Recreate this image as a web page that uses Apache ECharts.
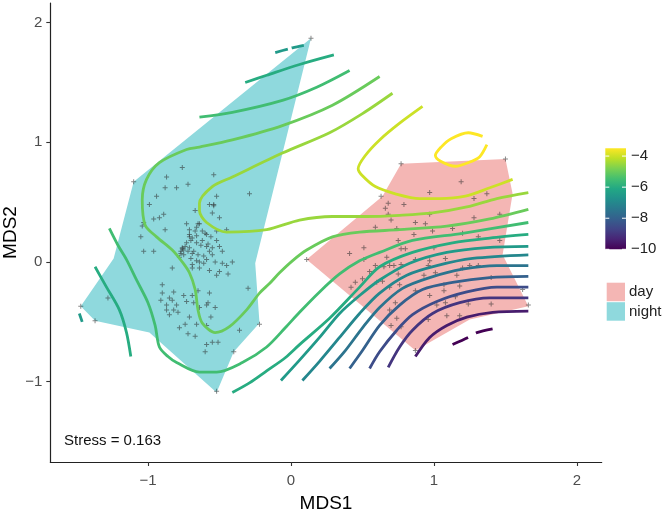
<!DOCTYPE html>
<html>
<head>
<meta charset="utf-8">
<script src="https://cdn.jsdelivr.net/npm/echarts@6/dist/echarts.min.js"></script>
<style>
  html, body { margin: 0; padding: 0; background: #fff; }
  #chart { width: 666px; height: 519px; }
</style>
</head>
<body>
<div id="chart"></div>
<script>
const xTicks = [-1, 0, 1, 2];
const yTicks = [-1, 0, 1, 2];
const barTicks = [-4, -6, -8, -10];
const levelRange = [-10, -3.5];
const groups = ["day", "night"];

const nightHull = [[0.14,1.87],[-0.25,-0.01],[-0.22,-0.51],[-0.40,-0.75],[-0.52,-1.09],[-0.99,-0.59],
  [-1.37,-0.49],[-1.47,-0.37],[-1.24,0.03],[-1.10,0.67]];
const dayHull = [[0.77,0.82],[1.50,0.86],[1.55,0.57],[1.48,0.06],[1.66,-0.37],[1.25,-0.48],
  [0.87,-0.74],[0.11,0.02],[0.64,0.55]];

const nightPoints = [
  [0.14,1.87],[-1.10,0.67],[-1.47,-0.37],[-1.37,-0.49],[-0.22,-0.52],[-0.40,-0.75],[-0.52,-1.08],
  [-0.87,0.71],[-0.54,0.73],[-0.72,0.65],[-0.80,0.62],[-0.88,0.62],[-0.29,0.57],[-0.52,0.55],[-0.94,0.55],
  [-0.57,0.48],[-0.54,0.48],[-0.99,0.48],[-0.67,0.43],[-0.55,0.41],[-0.89,0.40],[-0.92,0.37],[-0.96,0.36],
  [-0.50,0.37],[-1.03,0.33],[-0.73,0.32],[-0.65,0.32],[-0.66,0.29],[-1.04,0.30],[-0.88,0.27],[-0.71,0.27],
  [-0.67,0.26],[-0.52,0.26],[-0.45,0.27],[-0.71,0.23],[-0.59,0.23],[-0.66,0.22],[-0.56,0.21],[-1.05,0.21],
  [-0.70,0.18],[-0.62,0.18],[-0.52,0.18],[-0.73,0.16],[-0.66,0.16],[-0.63,0.14],[-0.59,0.13],[-0.71,0.12],
  [-0.55,0.12],[-0.50,0.13],[-0.76,0.11],[-0.77,0.09],[-0.72,0.09],[-0.68,0.09],[-0.57,0.09],[-0.48,0.09],
  [-1.03,0.09],[-0.96,0.09],[-0.75,0.06],[-0.65,0.06],[-0.61,0.05],[-0.55,0.06],[-0.78,0.04],[-0.70,0.03],
  [-0.59,0.02],[-0.66,0.01],[-0.64,0.00],[-0.53,0.00],[-0.41,0.00],[-0.69,-0.02],[-0.61,-0.01],[-0.48,-0.01],
  [-0.45,-0.03],[-0.64,-0.05],[-0.69,-0.05],[-0.57,-0.07],[-0.83,-0.05],[-0.50,-0.08],[-0.52,-0.11],[-0.44,-0.10],
  [-0.30,-0.22],[-0.90,-0.19],[-0.65,-0.24],[-0.82,-0.25],[-0.57,-0.26],[-0.90,-0.26],[-0.75,-0.28],[-0.69,-0.28],
  [-0.85,-0.30],[-0.91,-0.32],[-0.83,-0.32],[-0.73,-0.33],[-0.58,-0.34],[-0.68,-0.34],[-0.87,-0.36],[-0.80,-0.36],
  [-0.59,-0.36],[-0.53,-0.38],[-0.64,-0.38],[-0.82,-0.40],[-0.87,-0.40],[-0.79,-0.42],[-0.85,-0.44],[-0.56,-0.46],
  [-0.71,-0.46],[-0.74,-0.52],[-0.66,-0.52],[-0.78,-0.55],[-0.59,-0.53],[-0.72,-0.60],[-0.36,-0.57],[-0.67,-0.62],
  [-0.55,-0.67],[-0.51,-0.67],[-0.59,-0.69],[-0.60,-0.75],
  [-0.76,0.79],[-1.28,-0.30],[-0.64,0.32],[-0.54,0.47],
  [-0.76,0.12],[-0.75,0.10],[-0.77,0.07],[-0.74,0.13],[-0.71,0.21],[-0.69,0.20],[-0.60,0.24],[-0.62,0.26],
  [-0.58,0.15],[-0.69,0.07]
];

const dayPoints = [
  [0.77,0.82],[1.50,0.86],[1.19,0.67],[0.97,0.58],[0.63,0.55],[1.37,0.57],[1.28,0.53],[0.68,0.49],[0.79,0.48],
  [0.66,0.45],[0.68,0.40],[0.97,0.40],[1.46,0.40],[0.70,0.35],[1.28,0.37],[0.87,0.33],[0.94,0.32],[0.59,0.29],
  [0.74,0.28],[0.99,0.26],[1.13,0.28],[0.86,0.23],[1.20,0.24],[1.31,0.21],[0.75,0.18],[1.46,0.18],[0.51,0.12],
  [0.77,0.11],[0.80,0.11],[1.00,0.12],[0.41,0.07],[0.67,0.04],[0.51,0.02],[0.87,0.02],[0.97,0.01],[1.08,0.03],
  [0.69,-0.03],[0.59,-0.03],[0.72,-0.03],[0.65,-0.04],[0.77,-0.02],[0.96,-0.03],[1.20,-0.05],[1.25,-0.03],
  [1.31,-0.03],[0.55,-0.08],[0.75,-0.10],[0.93,-0.11],[1.01,-0.09],[1.16,-0.11],[0.50,-0.14],[0.45,-0.17],
  [0.60,-0.17],[0.64,-0.16],[0.76,-0.19],[0.69,-0.21],[0.42,-0.21],[1.07,-0.19],[1.18,-0.20],[1.40,-0.13],
  [0.87,-0.24],[0.97,-0.28],[1.07,-0.24],[1.15,-0.29],[1.62,-0.23],[0.73,-0.34],[1.02,-0.36],[1.08,-0.34],
  [1.24,-0.35],[1.40,-0.35],[0.69,-0.40],[0.74,-0.47],[1.09,-0.45],[1.18,-0.45],[0.70,-0.53],[0.77,-0.54],
  [1.66,-0.36],[0.11,0.02],[0.87,-0.74],[0.96,-0.48]
];

// contour lines of the fitted surface, one array per drawn piece
const ringLvl35 = [[1.34,1.05],[1.24,1.08],[1.12,1.03],[1.05,0.96],[1.01,0.89],[1.05,0.84],[1.15,0.80],
  [1.24,0.83],[1.32,0.88],[1.37,0.98]];
const lineLvl40 = [[0.92,1.30],[0.76,1.16],[0.62,1.02],[0.52,0.89],[0.47,0.78],[0.50,0.72],[0.59,0.63],
  [0.73,0.57],[0.90,0.53],[1.04,0.53],[1.22,0.55],[1.39,0.62],[1.55,0.69]];
const lineLvl45 = [[0.71,1.41],[0.50,1.24],[0.27,1.08],[-0.06,0.91],[-0.41,0.71],[-0.55,0.63],[-0.64,0.49],
  [-0.64,0.43],[-0.59,0.33],[-0.45,0.25],[-0.17,0.27],[0.06,0.35],[0.29,0.38],[0.53,0.38],[0.76,0.39],
  [0.99,0.41],[1.23,0.46],[1.44,0.53],[1.66,0.58]];
const lineLvl50 = [[0.62,1.55],[0.29,1.31],[-0.06,1.14],[-0.41,1.02],[-0.64,0.96],[-0.73,0.94],[-0.92,0.83],
  [-1.01,0.69],[-1.04,0.52],[-1.02,0.31],[-0.94,0.21],[-0.83,0.10],[-0.76,0.00],[-0.71,-0.09],[-0.67,-0.23],
  [-0.65,-0.40],[-0.62,-0.51],[-0.53,-0.59],[-0.43,-0.54],[-0.31,-0.40],[-0.22,-0.26],[-0.15,-0.18],
  [-0.08,-0.09],[0.01,0.01],[0.11,0.10],[0.29,0.21],[0.48,0.25],[0.76,0.27],[1.09,0.30],[1.39,0.36],[1.66,0.44]];
const lineLvl55a = [[0.41,1.60],[0.18,1.46],[-0.06,1.35],[-0.41,1.25],[-0.64,1.21]];
const lineLvl55b = [[-1.27,0.28],[-1.21,0.14],[-1.15,0.02],[-1.08,-0.15],[-1.00,-0.34],[-0.95,-0.53],
  [-0.92,-0.71],[-0.86,-0.79],[-0.80,-0.84],[-0.64,-0.92],[-0.52,-0.92],[-0.34,-0.84],[-0.17,-0.71],
  [-0.04,-0.55],[0.06,-0.42],[0.20,-0.25],[0.34,-0.10],[0.48,0.01],[0.62,0.08],[0.85,0.18],[1.20,0.24],[1.66,0.33]];
const lineLvl60a = [[0.30,1.73],[0.06,1.65],[-0.17,1.56],[-0.32,1.50]];
const lineLvl60b = [[-1.37,-0.04],[-1.29,-0.21],[-1.20,-0.40],[-1.15,-0.59],[-1.12,-0.79]];
const lineLvl60c = [[-0.41,-1.09],[-0.29,-1.01],[-0.17,-0.91],[-0.04,-0.80],[0.06,-0.69],[0.27,-0.47],
  [0.48,-0.21],[0.62,-0.04],[0.85,0.08],[1.13,0.16],[1.39,0.20],[1.66,0.23]];
const lineLvl65a = [[-0.11,1.75],[-0.02,1.78],[0.01,1.79],[0.09,1.81]];
const lineLvl65b = [[-1.48,-0.43],[-1.46,-0.50]];
const lineLvl65c = [[-0.07,-0.99],[0.06,-0.82],[0.20,-0.63],[0.34,-0.43],[0.48,-0.28],[0.62,-0.15],
  [0.83,-0.01],[1.09,0.08],[1.37,0.12],[1.66,0.13]];
const lineLvl70 = [[0.08,-0.99],[0.20,-0.83],[0.34,-0.63],[0.48,-0.43],[0.62,-0.26],[0.81,-0.11],
  [1.02,-0.03],[1.27,0.03],[1.66,0.06]];
const lineLvl75 = [[0.27,-0.89],[0.38,-0.74],[0.50,-0.55],[0.62,-0.38],[0.78,-0.22],[0.97,-0.13],
  [1.20,-0.06],[1.44,-0.03],[1.66,-0.03]];
const lineLvl80 = [[0.41,-0.89],[0.50,-0.74],[0.62,-0.53],[0.76,-0.36],[0.92,-0.23],[1.13,-0.17],
  [1.39,-0.13],[1.66,-0.12]];
const lineLvl85 = [[0.55,-0.89],[0.62,-0.75],[0.74,-0.57],[0.85,-0.44],[1.02,-0.33],[1.23,-0.25],
  [1.44,-0.21],[1.66,-0.21]];
const lineLvl90 = [[0.68,-0.88],[0.76,-0.71],[0.85,-0.57],[0.99,-0.43],[1.18,-0.34],[1.39,-0.30],[1.66,-0.30]];
const lineLvl95 = [[0.87,-0.79],[0.97,-0.63],[1.09,-0.53],[1.23,-0.46],[1.41,-0.42],[1.66,-0.41]];
const lineLvl100 = [[1.13,-0.69],[1.24,-0.63],[1.30,-0.59],[1.45,-0.55]];

const contourPieces = [
  { level: -3.5, pts: ringLvl35 },
  { level: -4.0, pts: lineLvl40 },
  { level: -4.5, pts: lineLvl45 },
  { level: -5.0, pts: lineLvl50 },
  { level: -5.5, pts: lineLvl55a },
  { level: -5.5, pts: lineLvl55b },
  { level: -6.0, pts: lineLvl60a },
  { level: -6.0, pts: lineLvl60b },
  { level: -6.0, pts: lineLvl60c },
  { level: -6.5, pts: lineLvl65a, dash: [13, 4] },
  { level: -6.5, pts: lineLvl65b },
  { level: -6.5, pts: lineLvl65c },
  { level: -7.0, pts: lineLvl70 },
  { level: -7.5, pts: lineLvl75 },
  { level: -8.0, pts: lineLvl80 },
  { level: -8.5, pts: lineLvl85 },
  { level: -9.0, pts: lineLvl90 },
  { level: -9.5, pts: lineLvl95 },
  { level: -10.0, pts: lineLvl100, dash: [17, 9] }
];

const VIRIDIS = ["#440154", "#482475", "#414487", "#355f8d", "#2a788e", "#21918c",
  "#22a884", "#44bf70", "#7ad151", "#bddf26", "#fde725"];

const hexToRgb = (hex) => {
  const v = parseInt(hex.slice(1), 16);
  return [(v >> 16) & 255, (v >> 8) & 255, v & 255];
};

const viridis = (t) => {
  t = Math.max(0, Math.min(1, t));
  const pos = t * (VIRIDIS.length - 1);
  const i = Math.min(Math.floor(pos), VIRIDIS.length - 2);
  const f = pos - i;
  const a = hexToRgb(VIRIDIS[i]);
  const b = hexToRgb(VIRIDIS[i + 1]);
  const c = a.map((v, k) => Math.round(v + (b[k] - v) * f));
  return `rgb(${c[0]}, ${c[1]}, ${c[2]})`;
};

const levelColor = (lvl) => viridis((lvl - levelRange[0]) / (levelRange[1] - levelRange[0]));

const FONT = "Liberation Sans, Arial, Helvetica, sans-serif";
const DAY_FILL = "#f4b6b4";
const NIGHT_FILL = "#8fd9dd";
const minus = (v) => String(v).replace("-", "\u2212");

const hullSeries = (name, hull, fill) => ({
  name: name,
  type: "custom",
  coordinateSystem: "cartesian2d",
  silent: true,
  z: 1,
  data: [[0, 0]],
  renderItem: (params, api) => ({
    type: "polygon",
    shape: { points: hull.map((p) => api.coord(p)) },
    style: { fill: fill, stroke: null }
  })
});

const CROSS = "path://M2,0H3V2H5V3H3V5H2V3H0V2H2Z";
const pointSeries = (data) => ({
  type: "scatter",
  data: data,
  symbol: CROSS,
  symbolSize: 5,
  silent: true,
  z: 2,
  itemStyle: { color: "rgba(45,45,45,0.7)" }
});

const lineSeries = contourPieces.map((c) => ({
  type: "line",
  data: c.pts,
  showSymbol: false,
  smooth: 0.3,
  silent: true,
  z: 3,
  lineStyle: {
    color: levelColor(c.level),
    width: 2.8,
    type: c.dash || "solid",
    cap: "butt"
  }
}));

// colour bar geometry (legend layout)
const bar = { x: 605.3, y: 148.3, w: 20.7, h: 101 };
const barY = (v) => bar.y + (levelRange[1] - v) / (levelRange[1] - levelRange[0]) * bar.h;

const gradStops = VIRIDIS.map((c, i) => ({ offset: 1 - i / (VIRIDIS.length - 1), color: c }));

const graphics = [
  {
    type: "rect",
    shape: { x: bar.x, y: bar.y, width: bar.w, height: bar.h },
    style: { fill: new echarts.graphic.LinearGradient(0, 0, 0, 1, gradStops) },
    silent: true
  }
];
barTicks.forEach((v) => {
  const y = barY(v);
  graphics.push({ type: "line", shape: { x1: bar.x, y1: y, x2: bar.x + 4, y2: y },
    style: { stroke: "#fff", lineWidth: 1 }, silent: true });
  graphics.push({ type: "line", shape: { x1: bar.x + bar.w - 4, y1: y, x2: bar.x + bar.w, y2: y },
    style: { stroke: "#fff", lineWidth: 1 }, silent: true });
  graphics.push({ type: "text", x: 631, y: y,
    style: { text: minus(v), font: `15px ${FONT}`, fill: "#222", verticalAlign: "middle", align: "left" },
    silent: true });
});

const legendFills = [DAY_FILL, NIGHT_FILL];
groups.forEach((g, i) => {
  const top = 282.7 + i * 19.5;
  graphics.push({ type: "rect", shape: { x: 606.7, y: top, width: 18.3, height: 18.5 },
    style: { fill: legendFills[i] }, silent: true });
  graphics.push({ type: "text", x: 629, y: top + 9.3,
    style: { text: g, font: `15px ${FONT}`, fill: "#222", verticalAlign: "middle", align: "left" },
    silent: true });
});

graphics.push({ type: "text", x: 64, y: 440.5,
  style: { text: "Stress = 0.163", font: `15px ${FONT}`, fill: "#111", verticalAlign: "middle", align: "left" },
  silent: true });

const axisCommon = {
  type: "value",
  splitLine: { show: false },
  axisLine: { onZero: false, lineStyle: { color: "#222", width: 1.2 } },
  nameLocation: "middle",
  nameMoveOverlap: false,
  nameTextStyle: { fontSize: 19, color: "#000", fontFamily: FONT }
};

const chart = echarts.init(document.getElementById("chart"), null, { renderer: "canvas" });
chart.setOption({
  animation: false,
  backgroundColor: "#fff",
  grid: { left: 50.3, right: 64.3, top: 3, bottom: 57, containLabel: false, outerBoundsMode: "none" },
  xAxis: Object.assign({}, axisCommon, {
    min: -1.683, max: 2.173,
    name: "MDS1", nameGap: 32,
    axisTick: { customValues: xTicks, length: 4, lineStyle: { color: "#333", width: 1.1 } },
    axisLabel: { customValues: xTicks, formatter: minus, color: "#4d4d4d", fontSize: 15,
      fontFamily: FONT, margin: 11 }
  }),
  yAxis: Object.assign({}, axisCommon, {
    min: -1.671, max: 2.164,
    name: "MDS2", nameGap: 30,
    axisTick: { customValues: yTicks, length: 4, lineStyle: { color: "#333", width: 1.1 } },
    axisLabel: { customValues: yTicks, formatter: minus, color: "#4d4d4d", fontSize: 15,
      fontFamily: FONT, margin: 8 }
  }),
  graphic: graphics,
  series: [
    hullSeries("night", nightHull, NIGHT_FILL),
    hullSeries("day", dayHull, DAY_FILL),
    pointSeries(nightPoints),
    pointSeries(dayPoints),
    ...lineSeries
  ]
});
</script>
</body>
</html>
